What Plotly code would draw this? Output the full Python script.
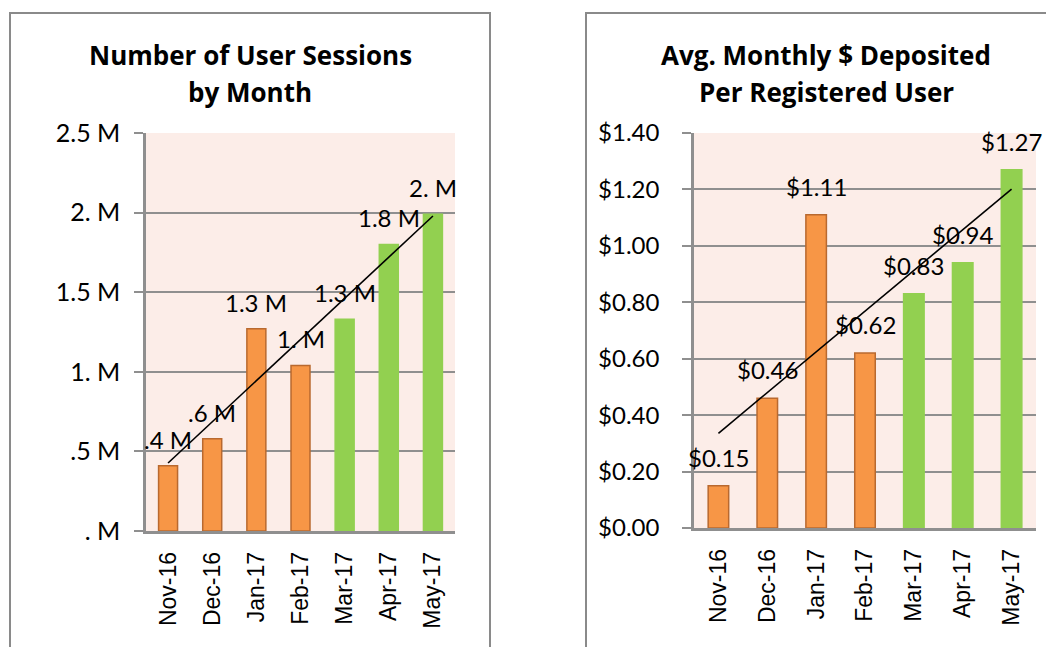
import numpy as np
import plotly.graph_objects as go

months = ["Nov-16", "Dec-16", "Jan-17", "Feb-17", "Mar-17", "Apr-17", "May-17"]
sessions = [0.41, 0.58, 1.27, 1.04, 1.33, 1.80, 1.99]  # millions
session_labels = [".4 M", ".6 M", "1.3 M", "1. M", "1.3 M", "1.8 M", "2. M"]
deposits = [0.15, 0.46, 1.11, 0.62, 0.83, 0.94, 1.27]
deposit_labels = ["$0.15", "$0.46", "$1.11", "$0.62", "$0.83", "$0.94", "$1.27"]
bar_colors = ["#F79646", "#F79646", "#F79646", "#F79646", "#92D050", "#92D050", "#92D050"]
line_colors = ["#B9692F", "#B9692F", "#B9692F", "#B9692F", "#92D050", "#92D050", "#92D050"]
left_ticks = [0, 0.5, 1.0, 1.5, 2.0, 2.5]
left_ticktext = [". M", ".5 M", "1. M", "1.5 M", "2. M", "2.5 M"]
right_ticks = [0, 0.2, 0.4, 0.6, 0.8, 1.0, 1.2, 1.4]
right_ticktext = ["$0.00", "$0.20", "$0.40", "$0.60", "$0.80", "$1.00", "$1.20", "$1.40"]

W, H = 1054, 647
OFF = 8  # page body margin
LABEL_FONT = dict(family="Lato", size=24, color="#000000")
YTICK_FONT = dict(family="Lato", size=25, color="#000000")
TICK_FONT = dict(family="Liberation Sans", size=23, color="#000000")
TITLE_FONT = dict(family="Open Sans", size=26, color="#000000")
GRID = "#8F8F8F"
BG = "#FCEDE8"


def fx(a):
    return (a - OFF) / W


def fy(t):
    return (H - (t - OFF)) / H


def trend(vals):
    x = np.arange(len(vals))
    m, c = np.polyfit(x, np.array(vals), 1)
    return [months[0], months[-1]], [c, m * (len(vals) - 1) + c]


fig = go.Figure()

fig.add_trace(go.Bar(x=months, y=sessions, marker=dict(color=bar_colors, line=dict(color=line_colors, width=1.5)),
                     width=0.43, xaxis="x", yaxis="y", showlegend=False, hoverinfo="skip"))
tx, ty = trend(sessions)
fig.add_trace(go.Scatter(x=tx, y=ty, mode="lines", line=dict(color="black", width=1.6),
                         xaxis="x", yaxis="y", showlegend=False, hoverinfo="skip"))

fig.add_trace(go.Bar(x=months, y=deposits, marker=dict(color=bar_colors, line=dict(color=line_colors, width=1.5)),
                     width=0.42, xaxis="x2", yaxis="y2", showlegend=False, hoverinfo="skip"))
tx2, ty2 = trend(deposits)
fig.add_trace(go.Scatter(x=tx2, y=ty2, mode="lines", line=dict(color="black", width=1.6),
                         xaxis="x2", yaxis="y2", showlegend=False, hoverinfo="skip"))

annotations = []
for m, v, t in zip(months, sessions, session_labels):
    annotations.append(dict(x=m, y=v, text=t, xref="x", yref="y", showarrow=False, yanchor="bottom",
                            yshift=10, font=LABEL_FONT))
for m, v, t in zip(months, deposits, deposit_labels):
    annotations.append(dict(x=m, y=v, text=t, xref="x2", yref="y2", showarrow=False, yanchor="bottom",
                            yshift=12, font=LABEL_FONT))

for txt, cx, cy in [("<b>Number of User Sessions</b>", 250, 55), ("<b>by Month</b>", 250, 92),
                    ("<b>Avg. Monthly $ Deposited</b>", 826, 55), ("<b>Per Registered User</b>", 826, 92)]:
    annotations.append(dict(x=fx(cx), y=fy(cy), xref="paper", yref="paper", showarrow=False, text=txt,
                            xanchor="center", yanchor="middle", font=TITLE_FONT))

shapes = [
    dict(type="rect", xref="paper", yref="paper", x0=fx(10), x1=fx(490), y0=-0.1, y1=fy(13),
         line=dict(color="#8A8A8A", width=2), fillcolor="rgba(0,0,0,0)", layer="below"),
    dict(type="rect", xref="paper", yref="paper", x0=fx(586), x1=1.1, y0=-0.1, y1=fy(13),
         line=dict(color="#8A8A8A", width=2), fillcolor="rgba(0,0,0,0)", layer="below"),
]

common_x = dict(type="category", range=[-0.5, 6.5], showgrid=False, showline=True, linecolor=GRID,
                linewidth=2.5, tickangle=-90, tickfont=TICK_FONT, ticks="", ticklabelstandoff=9,
                fixedrange=True, automargin=False)
common_y = dict(showgrid=True, gridcolor=GRID, gridwidth=2, showline=True, linecolor=GRID, linewidth=2.5,
                ticks="outside", ticklen=9, tickcolor=GRID, tickwidth=2,
                zeroline=False, fixedrange=True, automargin=False)

fig.update_layout(
    width=W, height=H, margin=dict(l=0, r=0, t=0, b=0, autoexpand=False),
    paper_bgcolor="white", plot_bgcolor=BG,
    xaxis=dict(domain=[fx(146), fx(455)], anchor="y", **common_x),
    yaxis=dict(domain=[fy(531), fy(133)], anchor="x", range=[0, 2.5], tickvals=left_ticks,
               ticktext=left_ticktext, ticklabelstandoff=9, tickfont=YTICK_FONT, **common_y),
    xaxis2=dict(domain=[fx(694), fx(1036)], anchor="y2", **common_x),
    yaxis2=dict(domain=[fy(528), fy(133)], anchor="x2", range=[0, 1.4], tickvals=right_ticks,
                ticktext=right_ticktext, ticklabelstandoff=18, tickfont=LABEL_FONT, **common_y),
    annotations=annotations, shapes=shapes,
)

fig.write_html("out.html")
